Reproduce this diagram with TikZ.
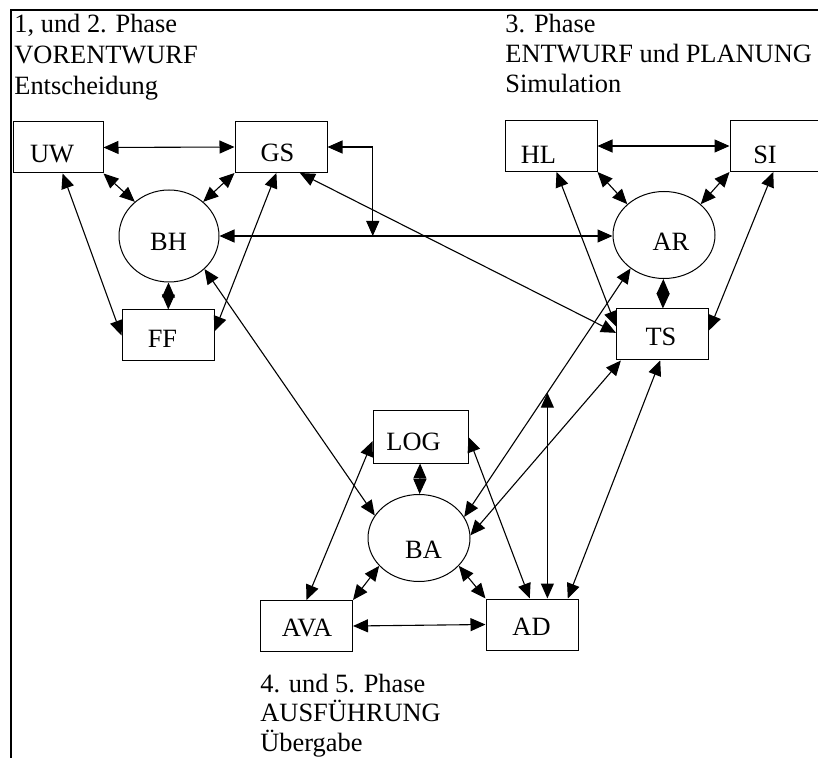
\documentclass[tikz,border=0pt]{standalone}
\usepackage{fontspec}
\setmainfont{Liberation Serif}
\usetikzlibrary{arrows.meta,shapes.geometric}
\tikzset{
  box/.style={draw,line width=0.5pt,minimum width=46pt,minimum height=25.5pt,inner sep=0pt},
  blob/.style={draw,ellipse,line width=0.5pt,minimum width=51pt,minimum height=43.5pt,inner sep=0pt},
  tag/.style={inner sep=0pt,font=\fontsize{13.2}{15}\selectfont},
  phase/.style={inner sep=0pt,align=left,anchor=base west,font=\fontsize{13.2}{15}\selectfont},
  link/.style={line width=0.55pt,{Triangle[length=7.5pt,width=6.5pt]}-{Triangle[length=7.5pt,width=6.5pt]}}
}
\begin{document}
\begin{tikzpicture}[x=0.5pt,y=-0.5pt]
\useasboundingbox (0,0) rectangle (818,758);
\clip (0,0) rectangle (818,758);
\draw[line width=1pt] (11,780) -- (11,10) -- (830,10);
\node[phase,font=\fontsize{13.2}{15.5}\selectfont] (ph12) at (14,95) {1, und 2. Phase\\VORENTWURF\\Entscheidung};
\node[phase] (ph3) at (505,93) {3. Phase\\ENTWURF und PLANUNG\\Simulation};
\node[phase,font=\fontsize{13.2}{14.75}\selectfont] (ph45) at (260,751) {4. und 5. Phase\\AUSFÜHRUNG\\Übergabe};
% boxes and circles
\node[box,minimum width=45pt] (UW) at (58,147.5) {};
\node[box] (GS) at (281,147) {};
\node[blob,minimum width=50pt,minimum height=46pt] (BH) at (169,236) {};
\node[box] (FF) at (168,335.5) {};
\node[box] (HL) at (551,146) {};
\node[box] (SI) at (776,146) {};
\node[blob] (AR) at (664,235) {};
\node[box] (TS) at (662.5,334.5) {};
\node[box,minimum width=47.5pt,minimum height=26pt] (LOG) at (420.5,437) {};
\node[blob] (BA) at (419,538) {};
\node[box] (AVA) at (306.5,626) {};
\node[box] (AD) at (532,624.5) {};
\node[tag] (UWt) at (52,154) {UW};
\node[tag] (GSt) at (277.5,152.5) {GS};
\node[tag] (BHt) at (168.5,241.5) {BH};
\node[tag] (FFt) at (162.5,338.5) {FF};
\node[tag] (HLt) at (538.5,154.5) {HL};
\node[tag] (SIt) at (765,154.5) {SI};
\node[tag] (ARt) at (671,241.5) {AR};
\node[tag] (TSt) at (661,337) {TS};
\node[tag] (LOGt) at (413.5,442) {LOG};
\node[tag] (BAt) at (423.5,550) {BA};
\node[tag] (AVAt) at (307,627.5) {AVA};
\node[tag] (ADt) at (531.5,626.5) {AD};
% links
\draw[link] (UW.east) -- (GS.west);
\draw[link] (UW.south east) -- (BH.135);
\draw[link] (GS.south west) -- (BH.45);
\draw[link] (UW.-80) -- (FF.west);
\draw[link] (GS.-100) -- (FF.5);
\draw[link] (BH) -- (FF);
\draw[link] (BH.east) -- coordinate[pos=0.39] (j1) (BH.east -| AR.west);
\draw[link] (GS.east) -| (j1);
\draw[link] (GS.-54) -- (TS.178);
\draw[link] (BH.-43) -- (BA.153);
\draw[link] (HL.east) -- (SI.west);
\draw[link] (HL.south east) -- (AR.140);
\draw[link] (SI.south west) -- (AR.40);
\draw[link] (HL.-78) -- (TS.170);
\draw[link] (SI.-96) -- (TS.5);
\draw[link] (AR) -- (TS);
\draw[link] (AR.-135) -- coordinate[pos=0.5] (j2) (BA.25);
\draw[link] (j2) -- (j2 |- AD.north);
\draw[link] (TS.-148) -- (BA.3);
\draw[link] (TS.-95) -- (AD.36);
\draw[link] (LOG.185) -- (AVA.north);
\draw[link] (LOG.east) -- (AD.95);
\draw[link] (LOG) -- (BA);
\draw[link] (BA.-145) -- (AVA.north east);
\draw[link] (BA.-35) -- (AD.north west);
\draw[link] (AVA.east) -- (AD.west);
\end{tikzpicture}
\end{document}
